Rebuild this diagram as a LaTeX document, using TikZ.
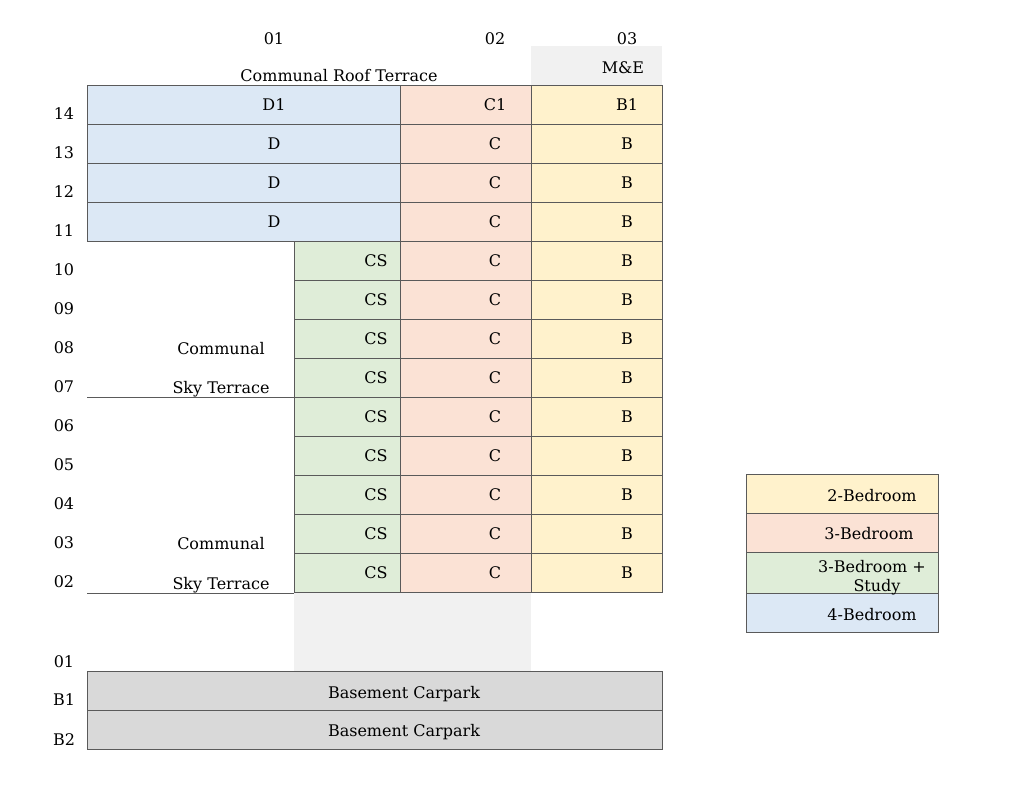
\documentclass[tikz,border=0pt]{standalone}
\usepackage{fontspec}
\setmainfont{DejaVu Serif}
\definecolor{twobed}{HTML}{FFF2CC}
\definecolor{threebed}{HTML}{FBE2D5}
\definecolor{studybed}{HTML}{DFEDD8}
\definecolor{fourbed}{HTML}{DCE8F5}
\definecolor{carpark}{HTML}{D9D9D9}
\definecolor{voidgrey}{HTML}{F1F1F1}
\definecolor{gridline}{HTML}{5A5A5A}
\tikzset{
  unit/.style={draw=gridline, line width=0.5pt},
  lbl/.style={font=\fontsize{8}{9.5}\selectfont, inner sep=0pt, anchor=base},
}

\begin{document}
\begin{tikzpicture}[x=0.5pt, y=-0.5pt]
  \useasboundingbox (0,0) rectangle (1024,789);

  % column headers and roof
  \node [lbl] (col01) at (274,44) {01};
  \node [lbl] (col02) at (495,44) {02};
  \node [lbl] (col03) at (627,44) {03};
  \fill [voidgrey] (531,46) rectangle (662,85);
  \node [lbl] (me) at (623,73) {M\&E};
  \node [lbl] (roof) at (339,81) {Communal Roof Terrace};

  % sky terraces
  \draw [unit] (87,397) -- (294,397);
  \draw [unit] (87,593) -- (294,593);
  \node [lbl] (sky1a) at (221,354) {Communal};
  \node [lbl] (sky1b) at (221,393) {Sky Terrace};
  \node [lbl] (sky2a) at (221,549) {Communal};
  \node [lbl] (sky2b) at (221,589) {Sky Terrace};

  % level numbers
  \foreach \lvl [count=\i from 0] in {14,13,12,11,10,09,08,07,06,05,04,03,02}
    \node [lbl] (lv\lvl) at (64,85+\i*39+34) {\lvl};
  \node [lbl] (lv01) at (64,667) {01};
  \node [lbl] (lvB1) at (64,705) {B1};
  \node [lbl] (lvB2) at (64,745) {B2};

  % units
  \foreach \i/\name in {0/D1,1/D,2/D,3/D} {
    \draw [unit, fill=fourbed] (87,85+\i*39) rectangle +(313,39);
    \node [lbl] (d\i) at (274,85+\i*39+25.5) {\name};
  }
  \foreach \i in {4,...,12} {
    \draw [unit, fill=studybed] (294,85+\i*39) rectangle +(106,39);
    \node [lbl] (cs\i) at (376,85+\i*39+25.5) {CS};
  }
  \foreach \i in {0,...,12} {
    \draw [unit, fill=threebed] (400,85+\i*39) rectangle +(131,39);
    \draw [unit, fill=twobed] (531,85+\i*39) rectangle +(131,39);
  }
  \node [lbl] (c0) at (495,110.5) {C1};
  \node [lbl] (b0) at (627,110.5) {B1};
  \foreach \i in {1,...,12} {
    \node [lbl] (c\i) at (495,85+\i*39+25.5) {C};
    \node [lbl] (b\i) at (627,85+\i*39+25.5) {B};
  }

  % ground floor and basement
  \fill [voidgrey] (294,593) rectangle (531,671);
  \draw [unit, fill=carpark] (87,671) rectangle (662,710);
  \draw [unit, fill=carpark] (87,710) rectangle (662,749);
  \node [lbl] (bsm1) at (404,698) {Basement Carpark};
  \node [lbl] (bsm2) at (404,736) {Basement Carpark};

  % legend
  \draw [unit, fill=twobed] (746,474) rectangle (938,513);
  \draw [unit, fill=threebed] (746,513) rectangle (938,552);
  \draw [unit, fill=studybed] (746,552) rectangle (938,593);
  \draw [unit, fill=fourbed] (746,593) rectangle (938,632);
  \node [lbl] (key2) at (872,501) {2-Bedroom};
  \node [lbl] (key3) at (869,539) {3-Bedroom};
  \node [lbl] (key3s) at (872,572) {3-Bedroom +};
  \node [lbl] (key3t) at (877,591) {Study};
  \node [lbl] (key4) at (872,620) {4-Bedroom};
\end{tikzpicture}
\end{document}
